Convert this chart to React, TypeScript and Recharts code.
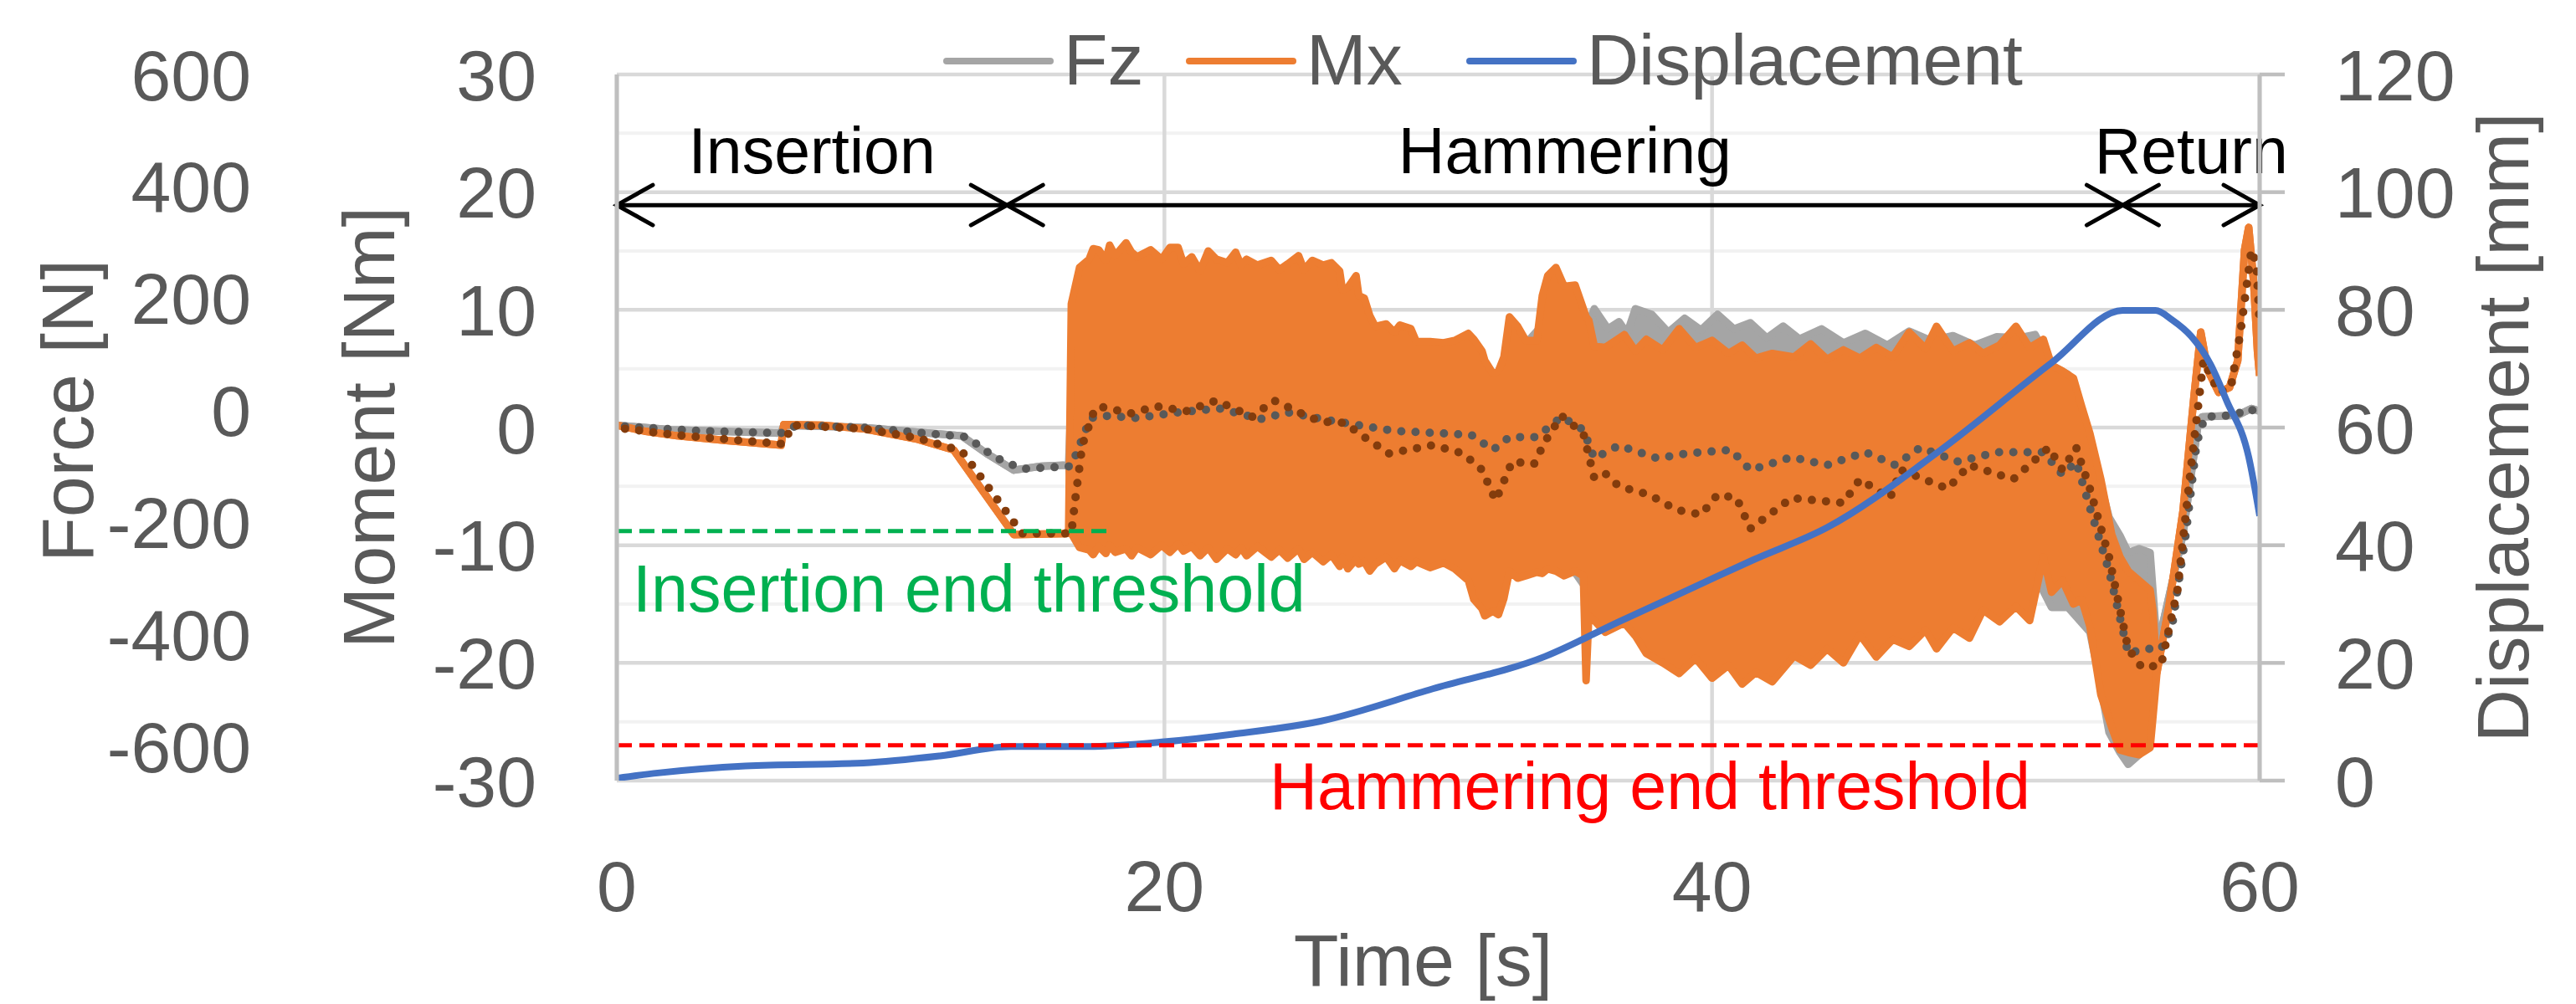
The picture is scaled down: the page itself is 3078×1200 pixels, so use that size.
import { Area, CartesianGrid, ComposedChart, Legend, Line, ReferenceLine, XAxis, YAxis } from "recharts";

const FONT = "'Liberation Sans', Arial, sans-serif";
const INK = "#595959";

// axis ids: Recharts stacks left axes by id, so the inner (moment) axis sorts first
const MOMENT = "a_moment";
const FORCE = "b_force";
const DISP = "c_disp";

const timeTicks = [0, 20, 40, 60];
const momentTicks = [-30, -20, -10, 0, 10, 20, 30];
const momentMinor = [-25, -15, -5, 5, 15, 25];
const forceTicks = [-600, -400, -200, 0, 200, 400, 600];
const dispTicks = [0, 20, 40, 60, 80, 100, 120];

// raw Mx: [time s, low Nm, high Nm]; low === high where the trace is a single line
const mxRaw: [number, number, number][] = [
  [0, 0.2, 0.2], [1.0, -0.3, -0.3], [2.2, -0.7, -0.7], [4.0, -1.1, -1.1], [6.0, -1.5, -1.5],
  [6.1, 0.25, 0.25], [7.5, 0.2, 0.2], [9.0, -0.1, -0.1], [11.0, -1.0, -1.0], [12.3, -1.9, -1.9],
  [13.4, -5.5, -5.5], [14.5, -9.1, -9.1], [16.5, -9.0, -9.0],
  [16.6, -9.0, 10.5], [16.9, -10.2, 13.6], [17.25, -10.4, 14.3], [17.4, -10.8, 15.2], [17.6, -10.1, 15.1],
  [17.86, -10.7, 14.2], [18.0, -10.0, 15.5], [18.2, -10.6, 14.6], [18.6, -10.3, 15.7], [18.8, -10.9, 14.9],
  [19.0, -10.2, 14.5], [19.5, -10.8, 15.1], [19.9, -10.0, 14.3], [20.2, -10.6, 15.3], [20.5, -9.9, 15.3],
  [20.7, -10.5, 13.9], [21.0, -10.1, 14.5], [21.3, -10.9, 13.3], [21.6, -10.2, 15.0], [21.9, -11.2, 14.3],
  [22.3, -10.3, 14.0], [22.6, -10.8, 14.9], [22.8, -10.2, 13.8], [23.0, -10.9, 14.3], [23.4, -10.1, 13.8],
  [23.9, -11.0, 14.2], [24.2, -10.4, 13.4], [24.5, -11.1, 13.9], [24.9, -10.3, 14.6], [25.1, -11.2, 13.4],
  [25.4, -10.6, 14.2], [25.8, -11.4, 13.8], [26.1, -10.8, 14.0], [26.4, -11.8, 13.3], [26.5, -11.0, 11.7],
  [26.7, -12.0, 11.9], [27.0, -11.2, 12.9], [27.1, -11.6, 11.2], [27.3, -11.4, 11.0], [27.5, -12.2, 9.5],
  [27.7, -11.6, 8.6], [28.1, -11.0, 8.8], [28.4, -12.0, 8.1], [28.6, -11.3, 8.7], [29.0, -11.8, 8.4],
  [29.2, -11.4, 7.3], [29.7, -11.9, 7.3], [30.2, -11.5, 7.2], [30.6, -12.0, 7.4], [31.1, -13.0, 8.0],
  [31.3, -14.6, 7.5], [31.6, -15.4, 6.5], [31.7, -16.0, 5.7], [32.0, -15.6, 4.6], [32.2, -15.9, 4.8],
  [32.4, -14.5, 6.0], [32.6, -12.2, 9.4], [32.9, -12.8, 8.6], [33.2, -12.6, 7.4], [33.6, -12.3, 7.4],
  [33.8, -12.4, 11.2], [34.0, -12.0, 12.9], [34.3, -12.2, 13.6], [34.6, -12.6, 12.0], [35.0, -12.2, 12.1],
  [35.3, -12.6, 10.1], [35.4, -21.5, 9.4], [35.5, -16.0, 9.1], [35.7, -16.4, 6.9], [36.1, -17.4, 6.8],
  [36.8, -16.6, 7.9], [37.2, -17.7, 6.5], [37.6, -19.2, 7.5], [38.2, -20.0, 6.6], [38.8, -20.9, 8.4],
  [39.4, -19.6, 6.8], [40.0, -21.3, 7.4], [40.6, -20.2, 6.3], [41.1, -21.8, 7.0], [41.6, -20.8, 5.9],
  [42.2, -21.6, 6.3], [43.0, -19.4, 6.0], [43.6, -20.2, 7.1], [44.2, -18.8, 5.8], [44.8, -20.0, 6.6],
  [45.4, -17.6, 5.9], [46.0, -19.5, 6.8], [46.6, -18.0, 6.0], [47.2, -18.6, 8.1], [47.8, -17.2, 6.7],
  [48.2, -18.8, 8.6], [48.8, -17.0, 6.5], [49.4, -17.9, 7.2], [49.9, -15.5, 6.3], [50.5, -16.5, 7.0],
  [51.1, -15.2, 8.6], [51.6, -16.4, 6.8], [52.1, -11.0, 7.5], [52.4, -14.0, 5.3], [52.8, -13.0, 4.8],
  [53.2, -15.0, 4.2], [53.5, -14.6, 1.8], [53.8, -16.9, -0.5], [54.2, -22.7, -4.4], [54.6, -25.5, -9.1],
  [54.9, -27.4, -11.0], [55.2, -27.6, -12.2], [55.6, -27.8, -13.0], [56.0, -27.2, -13.8], [56.1, -24.7, -15.5],
  [56.25, -20.8, -20.8], [56.7, -15.0, -15.0], [57.2, -7.1, -7.1], [57.6, 2.6, 2.6], [57.85, 8.1, 8.1],
  [58.1, 4.9, 4.9], [58.5, 3.0, 3.0], [58.9, 3.4, 3.4], [59.2, 5.7, 5.7], [59.45, 15.1, 15.1],
  [59.6, 17.0, 17.0], [59.78, 12.4, 12.4], [59.92, 6.5, 6.5], [60, 4.4, 4.4],
];

// raw Fz: [time s, low N, high N]
const fzRaw: [number, number, number][] = [
  [0, -26, -26], [2.0, -34, -34], [6.0, -40, -40], [6.1, -26, -26], [9.0, -30, -30],
  [12.6, -45, -45], [13.5, -76, -76], [14.5, -106, -106], [15.5, -99, -99], [16.5, -97, -97],
  [16.7, -198, 159], [17.5, -209, 201], [20.0, -198, 222], [25.0, -219, 201], [27.5, -240, 117],
  [30.0, -240, 96], [32.0, -303, 54], [34.3, -240, 180], [35.5, -324, 159], [35.7, -324, 182],
  [36.2, -345, 146], [36.6, -345, 159], [36.9, -366, 138], [37.2, -366, 182], [37.8, -387, 172],
  [38.4, -408, 140], [39.0, -408, 165], [39.6, -408, 144], [40.2, -408, 172], [40.8, -408, 146],
  [41.4, -408, 157], [42.0, -408, 130], [42.6, -387, 151], [43.2, -387, 128], [44.0, -366, 146],
  [44.8, -366, 121], [45.6, -345, 138], [46.4, -345, 117], [47.2, -345, 142], [48.0, -345, 125],
  [48.8, -324, 134], [49.6, -324, 117], [50.4, -303, 132], [51.2, -303, 130], [51.8, -293, 136],
  [52.4, -351, 81], [53.0, -351, 65], [53.8, -395, -57], [54.1, -467, -114], [54.5, -574, -190],
  [54.9, -610, -223], [55.2, -631, -253], [55.6, -614, -246], [56.0, -589, -253], [56.2, -416, -385],
  [56.3, -416, -416], [57.2, -221, -221], [57.75, -24, -24], [57.9, -11, -11], [59.2, -8, -8],
  [59.7, 4, 4], [60, -1, -1],
];

// moving averages: [time s, value]
const mxAvg: [number, number][] = [
  [0.3, -0.1], [2.0, -0.6], [4.0, -1.0], [6.1, -1.4], [6.4, 0.2], [9.0, -0.1], [11.0, -0.9],
  [12.6, -2.0], [13.8, -5.8], [14.8, -9.0], [16.6, -9.0], [16.75, -6.0], [17.0, -1.5], [17.4, 1.2],
  [17.6, 1.8], [18.8, 1.2], [19.7, 1.8], [20.8, 1.4], [21.9, 2.3], [23.2, 0.9], [24.0, 2.3],
  [25.0, 1.2], [25.7, 0.5], [26.6, 0.4], [27.1, -0.5], [28.2, -2.2], [29.8, -1.5], [30.9, -2.2],
  [31.6, -3.6], [32.1, -6.2], [32.7, -2.9], [33.5, -3.1], [33.9, -1.2], [34.5, 1.0], [35.3, -0.5],
  [35.7, -4.3], [36.1, -3.9], [36.6, -5.0], [37.7, -5.7], [38.7, -7.0], [39.6, -7.4], [40.2, -5.7],
  [40.9, -6.0], [41.4, -8.6], [42.9, -6.0], [44.8, -6.4], [45.4, -4.4], [46.5, -6.0], [46.9, -3.6],
  [48.6, -5.2], [49.4, -3.2], [51.0, -4.4], [52.3, -1.7], [52.8, -3.6], [53.3, -1.7], [53.8, -5.2],
  [54.5, -11.0], [55.2, -18.8], [55.7, -20.4], [56.4, -20.2], [57.0, -13.8], [57.5, -3.2],
  [57.95, 5.7], [58.5, 3.0], [58.95, 3.4], [59.3, 8.1], [59.7, 15.1], [59.88, 13.9], [60, 8.8],
];
const fzAvg: [number, number][] = [
  [0.3, -28], [3.0, -36], [6.0, -40], [6.4, -30], [6.6, -26], [9.0, -30], [12.8, -47], [13.8, -83],
  [14.8, -104], [16.6, -99], [16.9, -62], [17.3, -13], [17.8, -9], [19.0, -13], [20.5, -3], [22.0, 4],
  [23.5, -15], [24.5, -3], [26.0, -17], [27.1, -26], [28.4, -36], [30.0, -40], [31.2, -43], [32.0, -70],
  [32.6, -47], [33.6, -47], [34.5, -11], [35.3, -34], [35.7, -85], [36.6, -62], [38.0, -85], [39.1, -76],
  [40.7, -70], [41.4, -106], [42.9, -83], [44.2, -97], [45.6, -74], [46.7, -97], [47.6, -66], [49.0, -91],
  [50.4, -74], [52.1, -74], [52.8, -114], [53.3, -91], [53.8, -173], [54.5, -286], [55.2, -433],
  [55.8, -425], [56.4, -425], [56.8, -385], [57.3, -221], [57.7, -57], [58.0, -11], [59.1, -8],
  [59.6, 4], [60, -5],
];

// displacement: [time s, mm]
const displacement: [number, number][] = [
  [0, 0.4], [1.5, 1.3], [4.7, 2.5], [9.0, 3.0], [11.8, 4.2], [14.4, 5.8], [17.2, 5.8], [20.0, 6.6],
  [22.5, 7.9], [25.7, 10.1], [29.8, 15.6], [33.9, 21.1], [36.6, 27.0], [39.4, 33.0], [41.5, 37.5],
  [44.2, 43.0], [48.3, 56.0], [52.4, 71.0], [55.0, 79.9], [56.2, 79.9], [56.8, 78.3], [57.5, 75.5],
  [58.2, 70.8], [58.8, 64.5], [59.6, 55.0], [60, 45.0],
];

const phases = [
  { name: "Insertion", from: 0, to: 14.25 },
  { name: "Hammering", from: 14.25, to: 55 },
  { name: "Return", from: 55, to: 60 },
];
const phaseLevel = 18.9;
const insertionThreshold = { value: -8.8, until: 18.1, label: "Insertion end threshold", color: "#00B050" };
const hammeringThreshold = { value: -27, until: 60, label: "Hammering end threshold", color: "#FF0000" };

const legendItems = [
  { name: "Fz", color: "#A5A5A5" },
  { name: "Mx", color: "#ED7D31" },
  { name: "Displacement", color: "#4472C4" },
];

const mxData = mxRaw.map(([t, lo, hi]) => ({ t, band: [lo, hi] }));
const fzData = fzRaw.map(([t, lo, hi]) => ({ t, band: [lo, hi] }));
const mxAvgData = mxAvg.map(([t, v]) => ({ t, v }));
const fzAvgData = fzAvg.map(([t, v]) => ({ t, v }));
const dispData = displacement.map(([t, v]) => ({ t, v }));

const sideTitle = (text: string, dx: number, dy = 0) => (props: any) => {
  const vb = props.viewBox ?? { x: 0, y: 0, width: 0, height: 0 };
  const x = vb.x + dx;
  const y = vb.y + vb.height / 2 + dy;
  return (
    <text x={x} y={y} transform={`rotate(-90 ${x} ${y})`} textAnchor="middle" dominantBaseline="central"
      fill={INK} fontSize={88} fontFamily={FONT}>{text}</text>
  );
};

const timeTitle = (props: any) => {
  const vb = props.viewBox ?? { x: 0, y: 0, width: 0, height: 0 };
  return (
    <text x={vb.x + vb.width / 2 - 18} y={vb.y + 245} textAnchor="middle" fill={INK} fontSize={88} fontFamily={FONT}>
      Time [s]
    </text>
  );
};

const phaseArrow = (name: string) => (p: any) => {
  const { x1, y1, x2 } = p;
  const head = (x: number, dir: number) => `M${x + dir * 43},${y1 - 24} L${x},${y1} L${x + dir * 43},${y1 + 24}`;
  return (
    <g>
      <line x1={x1} y1={y1} x2={x2} y2={y1} stroke="#000" strokeWidth={5} />
      <path d={head(x1, 1)} fill="none" stroke="#000" strokeWidth={5} strokeLinecap="round" />
      <path d={head(x2, -1)} fill="none" stroke="#000" strokeWidth={5} strokeLinecap="round" />
      <text x={(x1 + x2) / 2} y={y1 - 38} textAnchor="middle" fill="#000" fontSize={77} fontFamily={FONT}>{name}</text>
    </g>
  );
};

const thresholdLine = (label: string, color: string, textDx: number, textDy: number) => (p: any) => (
  <g>
    <line x1={p.x1} y1={p.y1} x2={p.x2} y2={p.y2} stroke={color} strokeWidth={5} strokeDasharray="18 9" />
    <text x={p.x1 + textDx} y={p.y1 + textDy} fill={color} fontSize={79} fontFamily={FONT}>{label}</text>
  </g>
);

const renderLegend = () => {
  const xs = [1131, 1421, 1756];
  return (
    <svg width={3078} height={130}>
      {legendItems.map((item, i) => (
        <g key={item.name}>
          <line x1={xs[i]} y1={73} x2={xs[i] + 124} y2={73} stroke={item.color} strokeWidth={8} strokeLinecap="round" />
          <text x={xs[i] + 140} y={101} fill={INK} fontSize={86} fontFamily={FONT}>{item.name}</text>
        </g>
      ))}
    </svg>
  );
};

const tickStyle = { fill: INK, fontSize: 86, fontFamily: FONT };

export default function App() {
  return (
    <div style={{ position: "absolute", left: 0, top: 0, width: 3078, height: 1200, background: "#fff", fontFamily: FONT }}>
      <ComposedChart width={3078} height={1200} margin={{ top: 89, right: 0, bottom: 0, left: 0 }}>
        <CartesianGrid yAxisId={MOMENT} horizontalValues={momentMinor} vertical={false} stroke="#F2F2F2" strokeWidth={4} />
        <CartesianGrid yAxisId={MOMENT} stroke="#D9D9D9" strokeWidth={4.5} />
        <XAxis type="number" dataKey="t" domain={[0, 60]} ticks={timeTicks} allowDataOverflow height={267}
          axisLine={false} tickLine={false} tickSize={0} tickMargin={95} tick={tickStyle} label={{ content: timeTitle }} />
        <YAxis yAxisId={MOMENT} orientation="left" domain={[-30, 30]} ticks={momentTicks} allowDataOverflow width={357}
          axisLine={{ stroke: "#BFBFBF", strokeWidth: 5 }} tickLine={false} tickSize={0} tickMargin={96} tick={tickStyle}
          label={{ content: sideTitle("Moment [Nm]", 60) }} />
        <YAxis yAxisId={FORCE} orientation="left" domain={[-660, 600]} ticks={forceTicks} allowDataOverflow width={380}
          axisLine={false} tickLine={false} tickSize={0} tickMargin={80} tick={tickStyle}
          label={{ content: sideTitle("Force [N]", 80, -20) }} />
        <YAxis yAxisId={DISP} orientation="right" domain={[0, 120]} ticks={dispTicks} allowDataOverflow width={378}
          axisLine={{ stroke: "#BFBFBF", strokeWidth: 5 }} tickLine={{ stroke: "#BFBFBF", strokeWidth: 4.5 }}
          tickSize={30} tickMargin={60} tick={tickStyle} label={{ content: sideTitle("Displacement [mm]", 290) }} />

        <Area yAxisId={FORCE} data={fzData} dataKey="band" type="linear" stroke="#A5A5A5" strokeWidth={9}
          strokeLinejoin="round" fill="#A5A5A5" fillOpacity={1} dot={false} activeDot={false} isAnimationActive={false} />
        <Area yAxisId={MOMENT} data={mxData} dataKey="band" type="linear" stroke="#ED7D31" strokeWidth={9}
          strokeLinejoin="round" fill="#ED7D31" fillOpacity={1} dot={false} activeDot={false} isAnimationActive={false} />
        <Line yAxisId={FORCE} data={fzAvgData} dataKey="v" type="linear" stroke="#595959" strokeWidth={10}
          strokeDasharray="0 17" strokeLinecap="round" dot={false} activeDot={false} isAnimationActive={false} />
        <Line yAxisId={MOMENT} data={mxAvgData} dataKey="v" type="linear" stroke="#843C0C" strokeWidth={10}
          strokeDasharray="0 17" strokeLinecap="round" dot={false} activeDot={false} isAnimationActive={false} />
        <Line yAxisId={DISP} data={dispData} dataKey="v" type="monotone" stroke="#4472C4" strokeWidth={8}
          dot={false} activeDot={false} isAnimationActive={false} />

        <ReferenceLine yAxisId={MOMENT}
          segment={[{ x: 0, y: insertionThreshold.value }, { x: insertionThreshold.until, y: insertionThreshold.value }]}
          shape={thresholdLine(insertionThreshold.label, insertionThreshold.color, 19, 96)} />
        <ReferenceLine yAxisId={MOMENT}
          segment={[{ x: 0, y: hammeringThreshold.value }, { x: hammeringThreshold.until, y: hammeringThreshold.value }]}
          shape={thresholdLine(hammeringThreshold.label, hammeringThreshold.color, 780, 76)} />
        {phases.map((ph) => (
          <ReferenceLine key={ph.name} yAxisId={MOMENT}
            segment={[{ x: ph.from, y: phaseLevel }, { x: ph.to, y: phaseLevel }]} shape={phaseArrow(ph.name)} />
        ))}

        <Legend layout="vertical" align="center" verticalAlign="middle" content={renderLegend}
          wrapperStyle={{ position: "absolute", left: 0, top: 0, width: 3078, height: 130 }} />
      </ComposedChart>
    </div>
  );
}
